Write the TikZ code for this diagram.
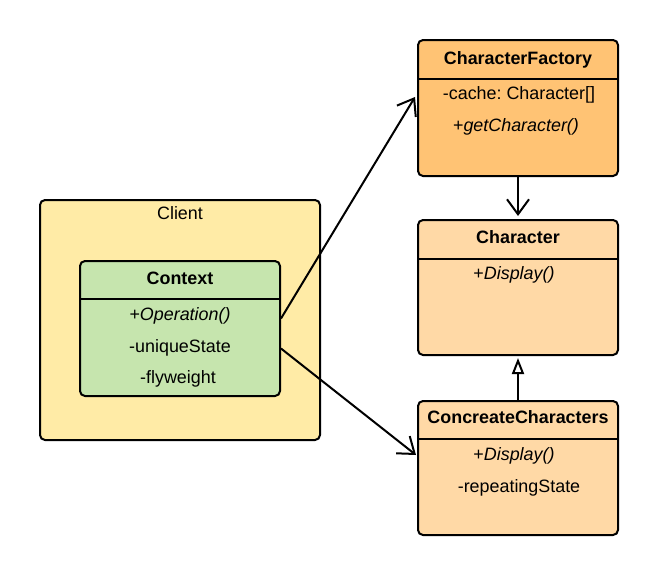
\documentclass[tikz,border=0pt]{standalone}
\usepackage{fontspec}
\setmainfont{Liberation Sans}
\frenchspacing
\usetikzlibrary{arrows.meta,calc}
\definecolor{factoryfill}{HTML}{FFC374}
\definecolor{charfill}{HTML}{FFD9A6}
\definecolor{clientfill}{HTML}{FFEBA6}
\definecolor{ctxfill}{HTML}{C6E5AE}
\tikzset{
  umlbox/.style={draw=black, line width=2pt, rounded corners=5pt, inner sep=0pt, minimum width=200pt},
  sepline/.style={line width=2pt},
  txt/.style={anchor=base, inner sep=0pt, font=\fontsize{17.9}{21}\selectfont},
  ttl/.style={txt, font=\fontsize{17.9}{21}\selectfont\bfseries},
  conn/.style={line width=2pt, -{Straight Barb[length=15pt,width=22pt]}},
  inherit/.style={line width=2pt, -{Triangle[open,length=16pt,width=12pt,fill=white]}}
}
\begin{document}
\begin{tikzpicture}[x=1pt,y=-1pt]
\useasboundingbox (0,0) rectangle (658,576);
% Client
\node[umlbox, fill=clientfill, minimum width=280pt, minimum height=240pt] (client) at (180,320) {};
\node[txt] (clientlbl) at (180,219) {Client};
% Context
\node[umlbox, fill=ctxfill, minimum height=135pt] (ctx) at (180,328.5) {};
\draw[sepline] (ctx.west |- 0,299) -- (ctx.east |- 0,299);
\node[ttl] (ctxt) at (180,284) {Context};
\node[txt] (ctxop) at (180,320) {+\textit{Operation()}};
\node[txt] (ctxus) at (180,352) {-uniqueState};
\node[txt] (ctxfw) at (178,383) {-flyweight};
% CharacterFactory
\node[umlbox, fill=factoryfill, minimum height=136pt] (cf) at (518,108) {};
\draw[sepline] (cf.west |- 0,79) -- (cf.east |- 0,79);
\node[ttl] (cft) at (518,64) {CharacterFactory};
\node[txt] (cfcache) at (519,99) {-cache: Character[]};
\node[txt] (cfget) at (516,131) {+\textit{getCharacter()}};
% Character
\node[umlbox, fill=charfill, minimum height=135pt] (ch) at (518,287.5) {};
\draw[sepline] (ch.west |- 0,259) -- (ch.east |- 0,259);
\node[ttl] (cht) at (518,243) {Character};
\node[txt] (chd) at (514,279) {+\textit{Display()}};
% ConcreateCharacters
\node[umlbox, fill=charfill, minimum height=134pt] (cc) at (518,468) {};
\draw[sepline] (cc.west |- 0,439) -- (cc.east |- 0,439);
\node[ttl] (cct) at (518,423) {ConcreateCharacters};
\node[txt] (ccd) at (514,460) {+\textit{Display()}};
\node[txt] (ccr) at (519,492) {-repeatingState};
% connectors
\draw[conn] ($(ctx.east)+(0,-10)$) -- ($(cf.west)+(-2,-11)$);
\draw[conn] ($(ctx.east)+(0,20)$) -- ($(cc.west)+(-1,-13)$);
\draw[conn] (cf.south) -- ($(ch.north)+(0,-3)$);
\draw[inherit] (cc.north) -- ($(ch.south)+(0,2)$);
\end{tikzpicture}
\end{document}
